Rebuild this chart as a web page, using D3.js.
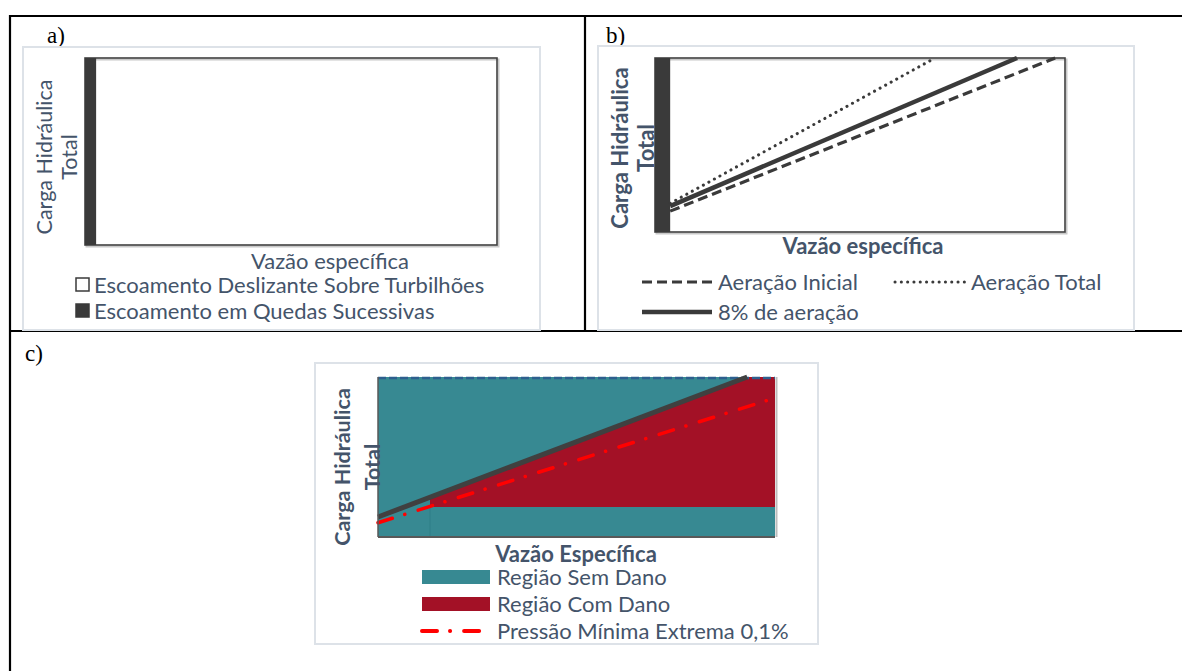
<!DOCTYPE html>
<html>
<head>
<meta charset="utf-8">
<script src="https://cdn.jsdelivr.net/npm/d3@7"></script>
<style>
  html, body { margin: 0; padding: 0; background: #fff; }
  svg { display: block; }
  text { font-family: Lato, "Open Sans", sans-serif; }
</style>
</head>
<body>
<svg id="fig" width="1182" height="671"></svg>
<script>
// ---------- data ----------
// Panel a: flow regimes
const regimesA = ["Escoamento Deslizante Sobre Turbilhões", "Escoamento em Quedas Sucessivas"];
const quedasExtentA = [0, 2.7];          // x-range (specific discharge) of nappe flow band

// Panel b: aeration lines (specific discharge, total head), 0-100 normalised
const seriesB = ["Aeração Inicial", "Aeração Total", "8% de aeração"];
const aeracaoInicial = [[3.7, 12.0], [97.6, 100]];
const aeracaoTotal   = [[3.7, 16.5], [68.3, 100]];
const aeracao8       = [[3.7, 14.9], [88.3, 100]];
const quedasExtentB = [0, 3.7];

// Panel c: damage regions
const seriesC = ["Região Sem Dano", "Região Com Dano", "Pressão Mínima Extrema 0,1%"];
const limiteDano     = [[0, 12.5], [93, 100]];     // dark line: 8% aeration limit
const pressaoMinima  = [[0, 8.9], [100, 86.9]];    // dash-dot line
const danoInicioX    = 13.1;                       // start of damaged region
const danoBaseY      = 18.75;                      // lower bound of damaged region

const axisTitles = {
  y: ["Carga Hidráulica", "Total"],
  xA: "Vazão específica",
  xB: "Vazão específica",
  xC: "Vazão Específica"
};
const panelLabels = ["a)", "b)", "c)"];

// ---------- style ----------
const TXT = "#44546a";
const DARK = "#404040";
const TEAL = "#378992";
const RED = "#a31126";
const FRAME = "#dde2e8";
const FS = 22;

const svg = d3.select("#fig");

// table grid
const grid = svg.append("g").attr("stroke", "#000").attr("stroke-width", 2.2).attr("fill", "none");
grid.append("line").attr("x1", 9).attr("x2", 1182).attr("y1", 16).attr("y2", 16);
grid.append("line").attr("x1", 10).attr("x2", 10).attr("y1", 15).attr("y2", 671);
grid.append("line").attr("x1", 585).attr("x2", 585).attr("y1", 15).attr("y2", 331);
grid.append("line").attr("x1", 9).attr("x2", 1182).attr("y1", 331).attr("y2", 331);

// panel letters
const letters = [[47, 43], [606, 43], [25, 361]];
panelLabels.forEach((t, i) => {
  svg.append("text").attr("x", letters[i][0]).attr("y", letters[i][1])
    .style("font-family", '"Liberation Serif", "Times New Roman", serif')
    .attr("font-size", 23).attr("fill", "#000").text(t);
});

function chartFrame(x0, y0, x1, y1) {
  svg.append("rect").attr("x", x0).attr("y", y0).attr("width", x1 - x0).attr("height", y1 - y0)
    .attr("fill", "#fff").attr("stroke", FRAME).attr("stroke-width", 2);
}

function plotBox(g, w, h) {
  // subtle shadow on right and bottom, then dark border
  g.append("rect").attr("x", 1.5).attr("y", 1.5).attr("width", w).attr("height", h)
    .attr("fill", "none").attr("stroke", "#c8c8c8").attr("stroke-width", 2);
  g.append("rect").attr("x", 0).attr("y", 0).attr("width", w).attr("height", h)
    .attr("fill", "none").attr("stroke", DARK).attr("stroke-width", 1.6);
}

function yTitle(cx, cy, bold, gap, size) {
  const t = svg.append("text").attr("transform", `translate(${cx},${cy}) rotate(-90)`)
    .attr("text-anchor", "middle").attr("fill", TXT).attr("font-size", size)
    .attr("font-weight", bold ? 700 : 400);
  axisTitles.y.forEach((s, i) => {
    t.append("tspan").attr("x", 0).attr("dy", i === 0 ? 0 : gap).text(s);
  });
}

// ================= panel a =================
chartFrame(23, 47, 540, 330);
{
  const L = 85, T = 58, W = 412, H = 187;
  const x = d3.scaleLinear().domain([0, 100]).range([0, W]);
  const y = d3.scaleLinear().domain([0, 100]).range([H, 0]);
  const g = svg.append("g").attr("transform", `translate(${L},${T})`);
  g.append("rect").attr("width", W).attr("height", H).attr("fill", "#fff");
  plotBox(g, W, H);
  g.append("rect").attr("x", x(quedasExtentA[0])).attr("y", y(100))
    .attr("width", x(quedasExtentA[1]) - x(quedasExtentA[0])).attr("height", y(0) - y(100))
    .attr("fill", "#3a3a3a");
  yTitle(52, 157, false, 25, 21.5);
  svg.append("text").attr("x", 330).attr("y", 269).attr("text-anchor", "middle")
    .attr("fill", TXT).attr("font-size", FS).text(axisTitles.xA);
  const leg = svg.append("g");
  regimesA.forEach((name, i) => {
    const yy = 285 + i * 26;
    leg.append("rect").attr("x", 76).attr("y", yy - 7).attr("width", 13).attr("height", 13)
      .attr("fill", i === 0 ? "#fff" : "#3a3a3a").attr("stroke", "#3a3a3a").attr("stroke-width", 1.5);
    leg.append("text").attr("x", 94).attr("y", yy + 8).attr("fill", TXT).attr("font-size", FS).text(name);
  });
}

// ================= panel b =================
chartFrame(598, 46, 1134, 330);
{
  const L = 655, T = 58, W = 410, H = 174;
  const x = d3.scaleLinear().domain([0, 100]).range([0, W]);
  const y = d3.scaleLinear().domain([0, 100]).range([H, 0]);
  const g = svg.append("g").attr("transform", `translate(${L},${T})`);
  g.append("rect").attr("width", W).attr("height", H).attr("fill", "#fff");
  plotBox(g, W, H);
  g.append("rect").attr("x", x(quedasExtentB[0])).attr("y", y(100))
    .attr("width", x(quedasExtentB[1]) - x(quedasExtentB[0])).attr("height", y(0) - y(100))
    .attr("fill", "#3a3a3a");
  const line = d3.line().x(d => x(d[0])).y(d => y(d[1]));
  const styles = [
    { data: aeracaoInicial, w: 3.2, dash: "10,5", cap: "butt" },
    { data: aeracaoTotal, w: 3, dash: "0.1,6.2", cap: "round" },
    { data: aeracao8, w: 4.5, dash: null, cap: "butt" }
  ];
  styles.forEach(s => {
    g.append("path").datum(s.data).attr("d", line).attr("fill", "none")
      .attr("stroke", "#3a3a3a").attr("stroke-width", s.w)
      .attr("stroke-dasharray", s.dash).attr("stroke-linecap", s.cap);
  });
  yTitle(628, 148, true, 26, FS);
  svg.append("text").attr("x", 863).attr("y", 254).attr("text-anchor", "middle")
    .attr("fill", TXT).attr("font-size", FS).attr("font-weight", 700).text(axisTitles.xB);
  const legPos = [[640, 282], [893, 282], [640, 312]];
  seriesB.forEach((name, i) => {
    const s = styles[i];
    const [lx, ly] = legPos[i];
    svg.append("line").attr("x1", lx + 2).attr("x2", lx + 72).attr("y1", ly).attr("y2", ly)
      .attr("stroke", "#3a3a3a").attr("stroke-width", s.w)
      .attr("stroke-dasharray", s.dash).attr("stroke-linecap", s.cap);
    svg.append("text").attr("x", lx + 78).attr("y", ly + 8).attr("fill", TXT)
      .attr("font-size", FS).text(name);
  });
}

// ================= panel c =================
chartFrame(315, 363, 818, 644);
{
  const L = 378, T = 377, W = 397, H = 160;
  const x = d3.scaleLinear().domain([0, 100]).range([0, W]);
  const y = d3.scaleLinear().domain([0, 100]).range([H, 0]);
  const g = svg.append("g").attr("transform", `translate(${L},${T})`);
  const limAt = xv => limiteDano[0][1] + (limiteDano[1][1] - limiteDano[0][1]) * (xv - limiteDano[0][0]) / (limiteDano[1][0] - limiteDano[0][0]);

  g.append("rect").attr("width", W).attr("height", H).attr("fill", TEAL);
  const danoPoly = [
    [danoInicioX, limAt(danoInicioX)],
    limiteDano[1],
    [100, 100],
    [100, danoBaseY],
    [danoInicioX, danoBaseY]
  ];
  g.append("path").datum(danoPoly)
    .attr("d", d3.line().x(d => x(d[0])).y(d => y(d[1])).curve(d3.curveLinearClosed))
    .attr("fill", RED);
  g.append("line").attr("x1", x(danoInicioX)).attr("x2", x(danoInicioX))
    .attr("y1", y(danoBaseY)).attr("y2", y(0)).attr("stroke", "#2f7f87").attr("stroke-width", 1);
  // upper boundary of the damage-free region
  g.append("line").attr("x1", 0).attr("x2", W).attr("y1", 1).attr("y2", 1)
    .attr("stroke", "#2d5f8e").attr("stroke-width", 2.5).attr("stroke-dasharray", "8,3");

  const line = d3.line().x(d => x(d[0])).y(d => y(d[1]));
  g.append("path").datum(limiteDano).attr("d", line).attr("fill", "none")
    .attr("stroke", DARK).attr("stroke-width", 5);
  g.append("path").datum(pressaoMinima).attr("d", line).attr("fill", "none")
    .attr("stroke", "#ff0000").attr("stroke-width", 3.5)
    .attr("stroke-dasharray", "15,13,0.1,14").attr("stroke-linecap", "round");

  // axes frame: left and bottom dark, right with shadow
  g.append("line").attr("x1", W + 1.5).attr("x2", W + 1.5).attr("y1", 0).attr("y2", H)
    .attr("stroke", "#bdbdbd").attr("stroke-width", 2);
  g.append("line").attr("x1", 0).attr("x2", 0).attr("y1", 0).attr("y2", H)
    .attr("stroke", "#595959").attr("stroke-width", 1.5);
  g.append("line").attr("x1", 0).attr("x2", W).attr("y1", H).attr("y2", H)
    .attr("stroke", "#595959").attr("stroke-width", 2);

  yTitle(350, 467, true, 30, 21.5);
  svg.append("text").attr("x", 576).attr("y", 562).attr("text-anchor", "middle")
    .attr("fill", TXT).attr("font-size", FS).attr("font-weight", 700).text(axisTitles.xC);

  const legY = [577, 604, 631];
  seriesC.forEach((name, i) => {
    if (i < 2) {
      svg.append("rect").attr("x", 422).attr("y", legY[i] - 7).attr("width", 68).attr("height", 14)
        .attr("fill", i === 0 ? TEAL : RED);
    } else {
      svg.append("line").attr("x1", 422).attr("x2", 480).attr("y1", legY[i]).attr("y2", legY[i])
        .attr("stroke", "#ff0000").attr("stroke-width", 4)
        .attr("stroke-dasharray", "15,13,0.1,14").attr("stroke-linecap", "round");
    }
    svg.append("text").attr("x", 497).attr("y", legY[i] + 8).attr("fill", TXT)
      .attr("font-size", FS).text(name);
  });
}
</script>
</body>
</html>
